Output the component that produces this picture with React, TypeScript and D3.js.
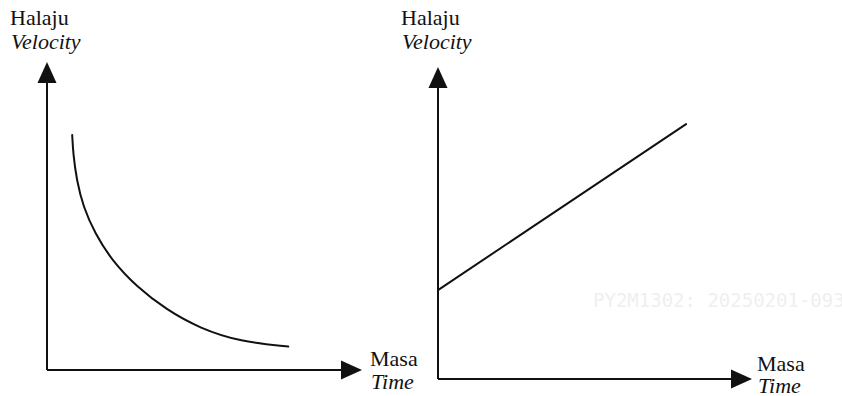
import React from "react";
import * as d3 from "d3";

// Left chart: velocity decreasing with time (curve)
const leftTime = [0.8, 0.83, 0.94, 1.15, 1.52, 2.05, 2.85, 3.8, 4.86, 6.13, 7.66];
const leftVelocity = [7.63, 7.04, 6.17, 5.3, 4.44, 3.57, 2.7, 1.95, 1.35, 0.92, 0.76];

// Right chart: velocity increasing linearly with time
const rightTime = [0, 7.9];
const rightVelocity = [2.85, 8.17];

const axisLabelsY = ["Halaju", "Velocity"];
const axisLabelsX = ["Masa", "Time"];
const watermark = "PY2M1302: 20250201-0930";

const W = 842;
const H = 396;

const panels = [
  { x0: 47, x1: 362, y0: 370, y1: 62, xs: leftTime, ys: leftVelocity, smooth: true,
    yLabelX: 10, xLabelX: 370, xLabelY: 366, timeDy: 23 },
  { x0: 438, x1: 752, y0: 379, y1: 67, xs: rightTime, ys: rightVelocity, smooth: false,
    yLabelX: 401, xLabelX: 757, xLabelY: 371, timeDy: 22 },
];

function Label(props: { x: number; y: number; italic?: boolean; children: string }) {
  return (
    <text
      x={props.x}
      y={props.y}
      fontFamily="Liberation Serif"
      fontSize={22}
      fontStyle={props.italic ? "italic" : "normal"}
      style={{ fontFamily: "Liberation Serif", fontSize: "22px", fontStyle: props.italic ? "italic" : "normal" }}
      fill="#111"
    >
      {props.children}
    </text>
  );
}

export default function App() {
  return (
    <svg width={W} height={H} fontFamily="Liberation Serif" style={{ position: "absolute", left: 0, top: 0, fontFamily: "Liberation Serif" }}>
      <rect width={W} height={H} fill="#fff" />
      <text x={593} y={307} style={{ fontFamily: "DejaVu Sans Mono", fontSize: "19px" }} fill="#efefef">{watermark}</text>
      {panels.map((p, i) => {
        const x = d3.scaleLinear().domain([0, 10]).range([p.x0, p.x1]);
        const y = d3.scaleLinear().domain([0, 10]).range([p.y0, p.y1]);
        const pts = p.xs.map((t, j) => [x(t), y(p.ys[j])] as [number, number]);
        const line = d3.line().curve(p.smooth ? d3.curveBasis : d3.curveLinear)(pts) || "";
        const ox = x(0), oy = y(0), tx = x(10), ty = y(10);
        const aw = 9.5, al = 21;
        const upArrow = `M${ox},${ty} L${ox - aw},${ty + al} L${ox + aw},${ty + al} Z`;
        const rightArrow = `M${tx},${oy} L${tx - al},${oy - aw} L${tx - al},${oy + aw} Z`;
        return (
          <g key={i}>
            <line x1={ox} y1={oy} x2={ox} y2={ty + al} stroke="#111" strokeWidth={2} />
            <line x1={ox} y1={oy} x2={tx - al} y2={oy} stroke="#111" strokeWidth={2} />
            <path d={upArrow} fill="#111" />
            <path d={rightArrow} fill="#111" />
            <path d={line} fill="none" stroke="#111" strokeWidth={2} strokeLinecap="round" />
            <Label x={p.yLabelX} y={25}>{axisLabelsY[0]}</Label>
            <Label x={p.yLabelX + 1} y={49} italic>{axisLabelsY[1]}</Label>
            <Label x={p.xLabelX} y={p.xLabelY}>{axisLabelsX[0]}</Label>
            <Label x={p.xLabelX + 1} y={p.xLabelY + p.timeDy} italic>{axisLabelsX[1]}</Label>
          </g>
        );
      })}
    </svg>
  );
}
